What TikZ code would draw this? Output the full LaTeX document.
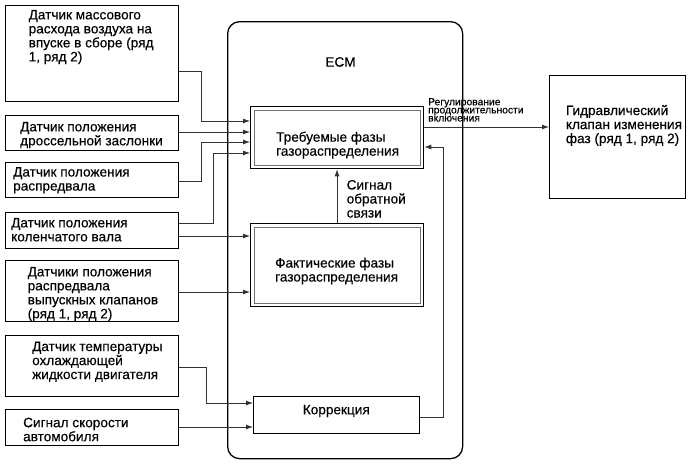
\documentclass[tikz,border=0pt]{standalone}
\usepackage{fontspec}
\setmainfont{Liberation Sans}[FakeBold=0.3]
\usetikzlibrary{arrows.meta}
\begin{document}
\begin{tikzpicture}[x=1pt,y=-1pt,
  box/.style={draw=black,line width=1.3pt,inner sep=0pt,anchor=north west},
  innerbox/.style={draw=black!55,line width=0.9pt},
  txt/.style={anchor=north west,inner sep=0pt,align=left,font=\fontsize{13.6}{14}\selectfont},
  ctxt/.style={anchor=center,inner sep=0pt,font=\fontsize{13.6}{14}\selectfont},
  smalltxt/.style={anchor=north west,inner sep=0pt,align=left,font=\fontsize{10.3}{8.1}\selectfont},
  conn/.style={draw=black!80,line width=0.8pt},
  arr/.style={conn,-{Latex[length=7pt,width=5pt]}},
]
\useasboundingbox (0,0) rectangle (689,464);

% ECM frame
\node[draw=black,line width=1.3pt,rounded corners=12pt,inner sep=0pt,anchor=north west,
      minimum width=235pt,minimum height=437pt] (ecm) at (227,21) {};
\node[ctxt] (ecmlbl) at (340.5,62) {ECM};

% left sensor boxes
\node[box,minimum width=173pt,minimum height=96pt] (maf) at (5,5) {};
\node[box,minimum width=173pt,minimum height=35pt] (thr) at (5,115) {};
\node[box,minimum width=173pt,minimum height=35pt] (cam) at (5,162) {};
\node[box,minimum width=173pt,minimum height=36pt] (crank) at (5,212) {};
\node[box,minimum width=173pt,minimum height=61pt] (exh) at (5,260) {};
\node[box,minimum width=173pt,minimum height=61pt] (cool) at (5,335) {};
\node[box,minimum width=173pt,minimum height=36pt] (spd) at (5,409) {};

\node[txt] (maft) at (28.5,9.8) {Датчик массового\\расхода воздуха на\\впуске в сборе (ряд\\1, ряд 2)};
\node[txt] (thrt) at (20,121.8) {Датчик положения\\дроссельной заслонки};
\node[txt] (camt) at (13,167) {Датчик положения\\распредвала};
\node[txt] (crankt) at (11,217.8) {Датчик положения\\коленчатого вала};
\node[txt] (exht) at (27.5,266.8) {Датчики положения\\распредвала\\выпускных клапанов\\(ряд 1, ряд 2)};
\node[txt] (coolt) at (32,341.5) {Датчик температуры\\охлаждающей\\жидкости двигателя};
\node[txt] (spdt) at (23,417.5) {Сигнал скорости\\автомобиля};

% right valve box
\node[box,minimum width=136pt,minimum height=123pt] (hyd) at (549,75) {};
\node[txt] (hydt) at (565.7,104.8) {Гидравлический\\клапан изменения\\фаз (ряд 1, ряд 2)};

% ECM inner blocks
\node[box,minimum width=173pt,minimum height=62pt] (req) at (250,106) {};
\draw[innerbox] ([shift={(4,4)}]req.north west) rectangle ([shift={(-4,-4)}]req.south east);
\node[txt] (reqt) at (276,131.5) {Требуемые фазы\\газораспределения};

\node[box,minimum width=173pt,minimum height=83pt] (act) at (250,223) {};
\draw[innerbox] ([shift={(4,4)}]act.north west) rectangle ([shift={(-4,-4)}]act.south east);
\node[txt] (actt) at (275,257.5) {Фактические фазы\\газораспределения};

\node[box,minimum width=166pt,minimum height=37pt] (corr) at (253,396) {};
\node[ctxt] (corrt) at (336.3,411) {Коррекция};

\node[txt] (fbt) at (346.5,179.8) {Сигнал\\обратной\\связи};
\node[smalltxt] (dutyt) at (428,98) {Регулирование\\продолжительности\\включения};

% connectors
\draw[arr] (maf.east |- 0,71) -- (201,71) -- (201,121) -- (req.west |- 0,121);
\draw[arr] (thr.east |- 0,132) -- (req.west |- 0,132);
\draw[arr] (cam.east |- 0,181) -- (201,181) -- (201,142) -- (req.west |- 0,142);
\draw[arr] (crank.east |- 0,223) -- (213,223) -- (213,153) -- (req.west |- 0,153);
\draw[arr] (crank.east |- 0,236) -- (act.west |- 0,236);
\draw[arr] (exh.east |- 0,292) -- (act.west |- 0,292);
\draw[arr] (cool.east |- 0,367) -- (206,367) -- (206,403) -- (corr.west |- 0,403);
\draw[arr] (spd.east |- 0,427) -- (corr.west |- 0,427);
\draw[arr] (act.north -| 337,0) -- (req.south -| 337,0);
\draw[arr] (corr.east |- 0,417) -- (443,417) -- (443,147) -- (req.east |- 0,147);
\draw[arr] (req.east |- 0,127) -- (hyd.west |- 0,127);
\end{tikzpicture}
\end{document}
